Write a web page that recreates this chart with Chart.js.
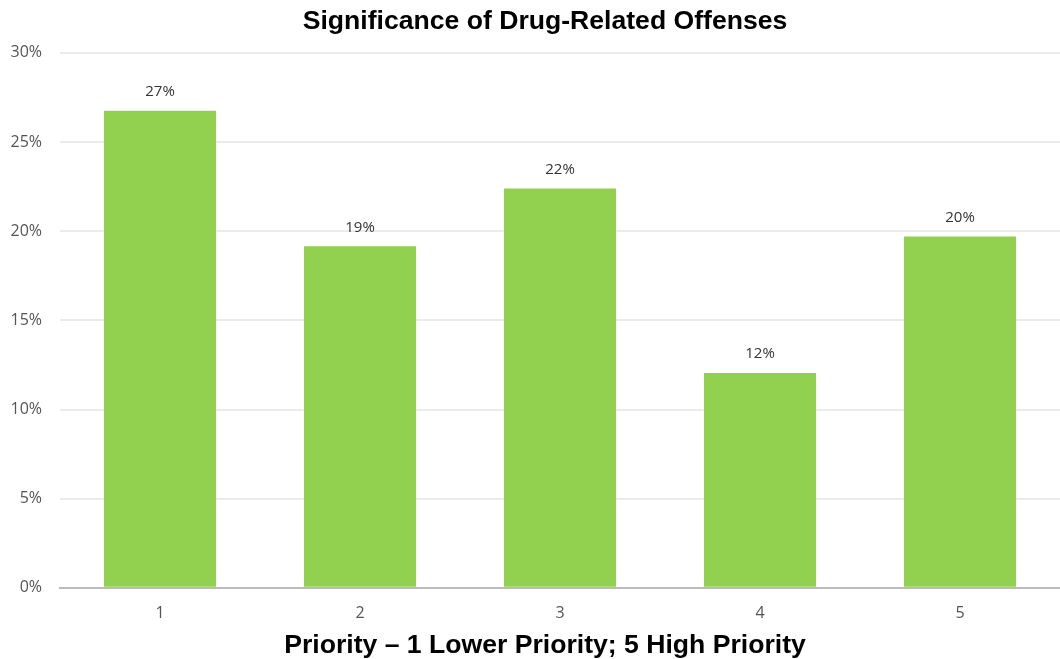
<!DOCTYPE html>
<html>
<head>
<meta charset="utf-8">
<script src="https://cdn.jsdelivr.net/npm/chart.js@4/dist/chart.umd.min.js"></script>
<style>
html,body{margin:0;padding:0;background:#fff;}
#wrap{width:1060px;height:659px;position:relative;}
</style>
</head>
<body>
<div id="wrap"><canvas id="c"></canvas></div>
<script>
const categories = ['1', '2', '3', '4', '5'];
const values = [26.75, 19.15, 22.4, 12.05, 19.7];
const valueLabels = ['27%', '19%', '22%', '12%', '20%'];
const yTicks = [0, 5, 10, 15, 20, 25, 30];

const labelPlugin = {
  id: 'barLabels',
  afterLayout(chart) {
    // centre the title blocks the way the reference does
    chart.boxes.forEach(b => {
      if (!(b instanceof Chart.Scale) && b.options && b.options.text !== undefined) {
        b.left = 30;
      }
    });
  },
  afterDatasetsDraw(chart) {
    const ctx = chart.ctx;
    const meta = chart.getDatasetMeta(0);
    ctx.save();
    ctx.font = '15px "Open Sans", sans-serif';
    ctx.fillStyle = '#333';
    ctx.textAlign = 'center';
    ctx.textBaseline = 'middle';
    meta.data.forEach((bar, i) => {
      ctx.fillText(valueLabels[i], bar.x, bar.y - 19);
    });
    ctx.restore();
  }
};

new Chart(document.getElementById('c'), {
  type: 'bar',
  data: {
    labels: categories,
    datasets: [{
      data: values,
      backgroundColor: '#92d050',
      borderWidth: 0,
      barPercentage: 0.56,
      categoryPercentage: 1.0
    }]
  },
  options: {
    responsive: true,
    maintainAspectRatio: false,
    animation: false,
    layout: { padding: { left: 10, right: 0, top: 4, bottom: 0 } },
    plugins: {
      legend: { display: false },
      tooltip: { enabled: false },
      title: {
        display: true,
        text: 'Significance of Drug-Related Offenses',
        font: { family: '"Liberation Sans", Arial, sans-serif', size: 26.6, weight: 'bold' },
        color: '#000',
        padding: { top: 2, bottom: 15 }
      },
      subtitle: {
        display: true,
        position: 'bottom',
        text: 'Priority \u2013 1 Lower Priority; 5 High Priority',
        font: { family: '"Liberation Sans", Arial, sans-serif', size: 26.6, weight: 'bold', lineHeight: 1.0 },
        color: '#000',
        padding: { top: -6.6, bottom: 0 }
      }
    },
    scales: {
      x: {
        grid: { display: false, drawTicks: false },
        border: { display: true, color: '#bbbbbb', width: 2 },
        ticks: { color: '#555', font: { family: '"Open Sans", sans-serif', size: 16 }, padding: 16 }
      },
      y: {
        min: yTicks[0],
        max: yTicks[yTicks.length - 1],
        afterBuildTicks(axis) { axis.ticks = yTicks.map(v => ({ value: v })); },
        afterFit(axis) { axis.width = 50; },
        grid: { color: '#ebebeb', lineWidth: 2, drawTicks: false },
        border: { display: false },
        ticks: {
          color: '#555',
          font: { family: '"Open Sans", sans-serif', size: 16 },
          padding: 18,
          callback: v => v + '%'
        }
      }
    }
  },
  plugins: [labelPlugin]
});
</script>
</body>
</html>
